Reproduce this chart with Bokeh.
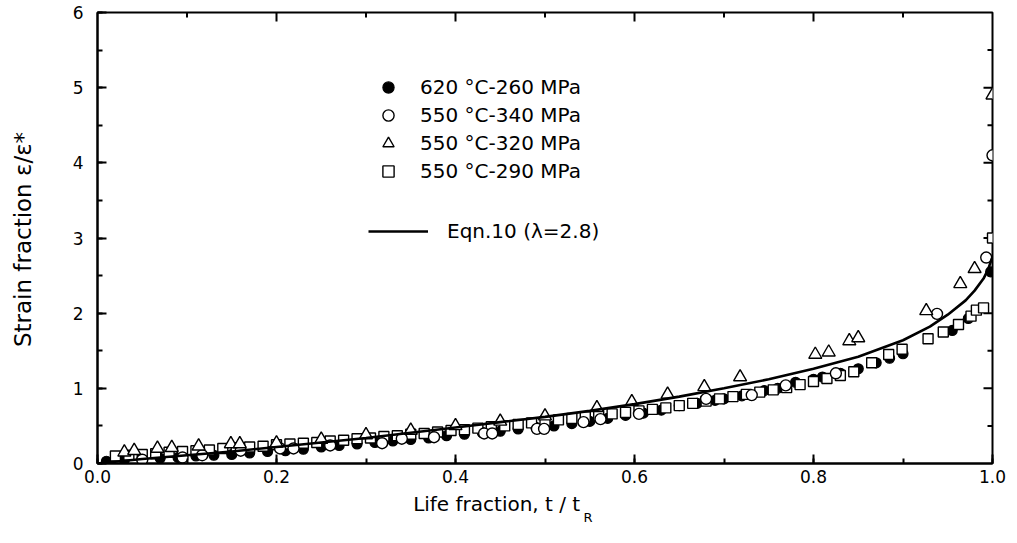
import math
from bokeh.plotting import figure
from bokeh.models import (Legend, LegendItem, LinearAxis, SingleIntervalTicker,
                          FixedTicker, Range1d, PrintfTickFormatter,
                          CustomJSTickFormatter)
from bokeh.embed import file_html
from bokeh.resources import INLINE

# ---------------- data ----------------
# 620 C - 260 MPa (filled circles)
fc_t = [0.01, 0.03, 0.05, 0.07, 0.09, 0.11, 0.13, 0.15, 0.17, 0.19, 0.21, 0.23, 0.25,
        0.27, 0.29, 0.31, 0.33, 0.35, 0.37, 0.39, 0.41, 0.43, 0.45, 0.47, 0.49, 0.51,
        0.53, 0.55, 0.57, 0.59, 0.61, 0.63, 0.65, 0.67, 0.69, 0.70, 0.72, 0.745, 0.76,
        0.78, 0.80, 0.81, 0.83, 0.85, 0.87, 0.885, 0.90, 0.955, 0.973, 0.998]
fc_y = [0.03, 0.05, 0.06, 0.07, 0.08, 0.10, 0.11, 0.12, 0.14, 0.16, 0.17, 0.19, 0.22,
        0.24, 0.26, 0.28, 0.30, 0.32, 0.34, 0.37, 0.39, 0.41, 0.43, 0.46, 0.48, 0.50,
        0.53, 0.56, 0.60, 0.64, 0.67, 0.71, 0.77, 0.80, 0.84, 0.86, 0.90, 0.97, 1.00,
        1.08, 1.12, 1.15, 1.20, 1.26, 1.34, 1.40, 1.46, 1.77, 1.93, 2.55]

# 550 C - 340 MPa (open circles)
oc_t = [0.05, 0.095, 0.117, 0.16, 0.204, 0.219, 0.26, 0.318, 0.34, 0.376, 0.432, 0.441,
        0.491, 0.499, 0.543, 0.562, 0.605, 0.68, 0.731, 0.769, 0.825, 0.938, 0.993, 1.0]
oc_y = [0.05, 0.08, 0.11, 0.17, 0.20, 0.20, 0.24, 0.27, 0.33, 0.35, 0.40, 0.40,
        0.46, 0.46, 0.55, 0.59, 0.66, 0.86, 0.91, 1.04, 1.20, 1.99, 2.74, 4.1]

# 550 C - 320 MPa (open triangles)
tr_t = [0.03, 0.041, 0.067, 0.083, 0.113, 0.149, 0.159, 0.20, 0.25, 0.30, 0.35, 0.40,
        0.45, 0.50, 0.558, 0.597, 0.637, 0.678, 0.718, 0.802, 0.817, 0.840, 0.850,
        0.926, 0.964, 0.980, 1.0]
tr_y = [0.15, 0.17, 0.20, 0.21, 0.23, 0.26, 0.26, 0.27, 0.32, 0.38, 0.44, 0.50,
        0.56, 0.63, 0.74, 0.82, 0.92, 1.02, 1.15, 1.45, 1.48, 1.63, 1.67,
        2.03, 2.39, 2.59, 4.9]

# 550 C - 290 MPa (open squares)
sq_t = [0.02, 0.035, 0.05, 0.065, 0.08, 0.095, 0.11, 0.125, 0.14, 0.155, 0.17, 0.185,
        0.20, 0.215, 0.23, 0.245, 0.26, 0.275, 0.29, 0.305, 0.32, 0.335, 0.35, 0.365,
        0.38, 0.395, 0.41, 0.425, 0.44, 0.455, 0.47, 0.485, 0.50, 0.515, 0.53, 0.545,
        0.56, 0.575, 0.59, 0.605, 0.62, 0.635, 0.65, 0.665, 0.68, 0.695, 0.71, 0.725,
        0.74, 0.755, 0.77, 0.785, 0.80, 0.815, 0.83, 0.845, 0.865, 0.884, 0.899, 0.928,
        0.945, 0.962, 0.976, 0.982, 0.99, 1.0]
sq_y = [0.10, 0.11, 0.12, 0.13, 0.15, 0.16, 0.17, 0.18, 0.20, 0.21, 0.22, 0.23,
        0.25, 0.26, 0.27, 0.28, 0.30, 0.31, 0.33, 0.34, 0.36, 0.37, 0.39, 0.40,
        0.42, 0.44, 0.45, 0.47, 0.49, 0.50, 0.52, 0.54, 0.56, 0.58, 0.60, 0.62,
        0.64, 0.66, 0.68, 0.70, 0.72, 0.74, 0.77, 0.80, 0.83, 0.86, 0.89, 0.92,
        0.95, 0.98, 1.01, 1.05, 1.09, 1.13, 1.17, 1.22, 1.34, 1.45, 1.52, 1.66,
        1.75, 1.85, 1.96, 2.04, 2.07, 3.0]

# Eqn.10 (lambda = 2.8) curve
curve_t = [0.0, 0.05, 0.10, 0.15, 0.20, 0.25, 0.30, 0.35, 0.40, 0.45, 0.50, 0.55,
           0.60, 0.65, 0.70, 0.75, 0.80, 0.85, 0.90, 0.93, 0.95, 0.97, 0.98, 0.99,
           0.995, 1.0]
curve_y = [0.0, 0.06, 0.11, 0.16, 0.22, 0.28, 0.34, 0.41, 0.48, 0.55, 0.62, 0.70,
           0.79, 0.89, 1.00, 1.12, 1.26, 1.42, 1.64, 1.82, 1.98, 2.17, 2.30, 2.46,
           2.58, 2.75]

legend_labels = ["620 \u00b0C-260 MPa", "550 \u00b0C-340 MPa",
                 "550 \u00b0C-320 MPa", "550 \u00b0C-290 MPa"]
line_label = "Eqn.10 (\u03bb=2.8)"
x_title = "Life fraction, t / t"
x_title_sub = "R"
y_title = "Strain fraction \u03b5/\u03b5*"

# tick values of the frame's top and right edges
top_major = [0.2, 0.4, 0.6, 0.8]
top_minor = [0.1, 0.3, 0.5, 0.7, 0.9]
right_major = [1, 2, 3, 4, 5]
right_minor = [0.5, 1.5, 2.5, 3.5, 4.5, 5.5]

for a, b in [(fc_t, fc_y), (oc_t, oc_y), (tr_t, tr_y), (sq_t, sq_y), (curve_t, curve_y)]:
    assert len(a) == len(b)

FONT = "DejaVu Sans"

p = figure(width=1017, height=543, x_range=Range1d(0, 1), y_range=Range1d(0, 6),
           output_backend="svg", toolbar_location=None,
           min_border_left=97, min_border_right=25, min_border_top=12,
           min_border_bottom=80)
p.grid.visible = False
p.outline_line_color = "black"
p.outline_line_width = 2
p.background_fill_color = "white"
p.border_fill_color = "white"


def style(ax):
    ax.axis_line_width = 2
    ax.axis_line_color = "black"
    ax.major_tick_in = 9
    ax.major_tick_out = 0
    ax.minor_tick_in = 5
    ax.minor_tick_out = 0
    ax.major_tick_line_width = 2
    ax.minor_tick_line_width = 2
    ax.major_tick_line_color = "black"
    ax.minor_tick_line_color = "black"
    ax.major_label_text_font = FONT
    ax.major_label_text_font_size = "17px"
    ax.major_label_text_color = "black"


p.xaxis.ticker = SingleIntervalTicker(interval=0.2, num_minor_ticks=2)
p.xaxis.formatter = PrintfTickFormatter(format="%.1f")
p.yaxis.ticker = SingleIntervalTicker(interval=1, num_minor_ticks=2)
p.yaxis.formatter = PrintfTickFormatter(format="%d")
style(p.xaxis[0])
style(p.yaxis[0])
p.xaxis.major_label_standoff = 6
p.yaxis.major_label_standoff = 14


def title_axis(tick, text, size, standoff, vertical=False):
    ax = LinearAxis(ticker=FixedTicker(ticks=[tick], minor_ticks=[]),
                    formatter=CustomJSTickFormatter(code="return %r;" % text))
    ax.axis_line_alpha = 0
    ax.major_tick_in = 0
    ax.major_tick_out = 0
    ax.minor_tick_in = 0
    ax.minor_tick_out = 0
    ax.major_label_text_font = FONT
    ax.major_label_text_font_size = size
    ax.major_label_text_color = "black"
    ax.major_label_standoff = standoff
    if vertical:
        ax.major_label_orientation = "vertical"
    return ax


# x title "Life fraction, t / t_R" and y title
p.add_layout(title_axis(0.446, x_title, "20px", 6), "below")
p.add_layout(title_axis(0.548, x_title_sub, "13px", -9), "below")
p.add_layout(title_axis(2.98, y_title, "23px", 33, vertical=True), "left")

# inward ticks on the top and right edges of the frame
p.ray(x=top_major, y=6, length=9, length_units="screen", angle=-math.pi / 2,
      line_color="black", line_width=2)
p.ray(x=top_minor, y=6, length=5, length_units="screen", angle=-math.pi / 2,
      line_color="black", line_width=2)
p.ray(x=1, y=right_major, length=9, length_units="screen", angle=math.pi,
      line_color="black", line_width=2)
p.ray(x=1, y=right_minor, length=5, length_units="screen", angle=math.pi,
      line_color="black", line_width=2)

r_fc = p.scatter(fc_t, fc_y, marker="circle", size=10, fill_color="black",
                 line_color="black", line_width=1.2)
r_sq = p.scatter(sq_t, sq_y, marker="square", size=10, fill_color="white",
                 line_color="black", line_width=1.4)
r_oc = p.scatter(oc_t, oc_y, marker="circle", size=11, fill_color="white",
                 line_color="black", line_width=1.4)
r_tr = p.scatter(tr_t, tr_y, marker="triangle", size=13, fill_color="white",
                 line_color="black", line_width=1.4)
r_ln = p.line(curve_t, curve_y, line_color="black", line_width=2.6)

leg = Legend(items=[LegendItem(label=legend_labels[0], renderers=[r_fc]),
                    LegendItem(label=legend_labels[1], renderers=[r_oc]),
                    LegendItem(label=legend_labels[2], renderers=[r_tr]),
                    LegendItem(label=legend_labels[3], renderers=[r_sq])],
             location=(277, 278), glyph_width=28, glyph_height=28, label_height=28,
             spacing=0, label_standoff=18, padding=0, margin=0,
             border_line_alpha=0, background_fill_alpha=0,
             label_text_font=FONT, label_text_font_size="20px",
             label_text_color="black")
p.add_layout(leg)
leg2 = Legend(items=[LegendItem(label=line_label, renderers=[r_ln])],
              location=(271, 220), glyph_width=60, glyph_height=20, label_height=20,
              spacing=0, label_standoff=19, padding=0, margin=0,
              border_line_alpha=0, background_fill_alpha=0,
              label_text_font=FONT, label_text_font_size="20px",
              label_text_color="black")
p.add_layout(leg2)

open("out.html", "w").write(file_html(p, INLINE))
